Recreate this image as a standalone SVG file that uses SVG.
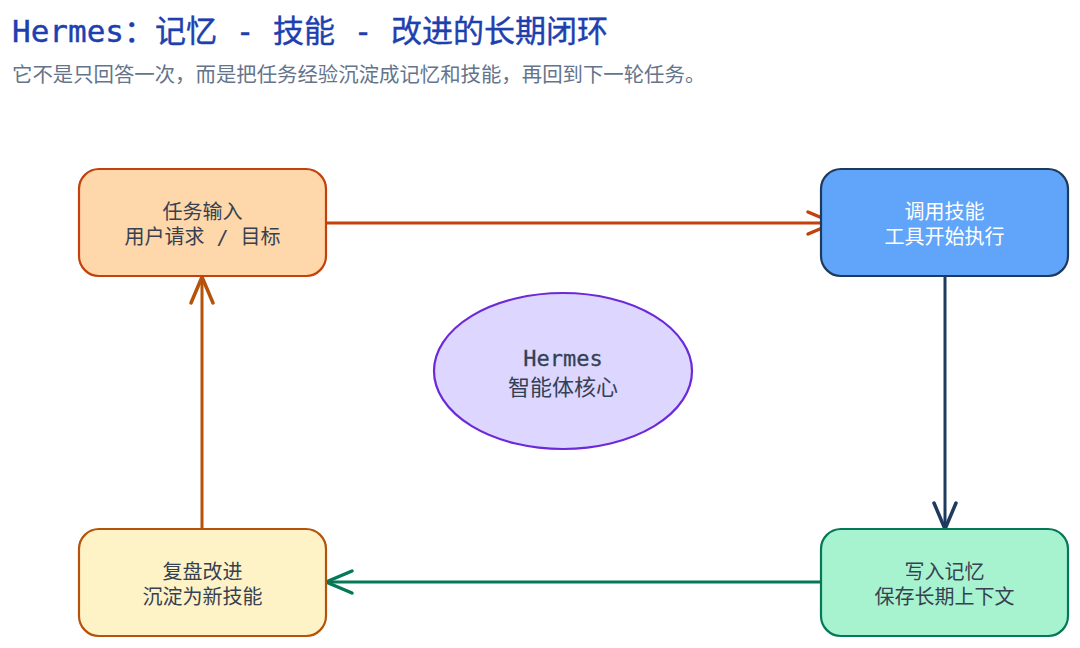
<svg xmlns="http://www.w3.org/2000/svg" width="1080" height="648" viewBox="0 0 1080 648">
<style>
text{font-family:"DejaVu Sans Mono","Noto Sans CJK SC",monospace;}
.title{font-size:31px;fill:#1e40af;stroke:#1e40af;stroke-width:0.4px;}
.cjk{font-family:"Noto Sans CJK SC",sans-serif;}
.sub{font-size:20.4px;fill:#64748b;font-family:"Noto Sans CJK SC",sans-serif;}
.lbl{font-size:20px;fill:#374151;text-anchor:middle;}
.lblw{font-size:20px;fill:#ffffff;text-anchor:middle;}
.core{font-size:22px;fill:#334155;text-anchor:middle;}
.coreb{stroke:#334155;stroke-width:0.3px;}
.node{stroke-width:2.2;}
.edge{fill:none;stroke-width:3;}
</style>
<defs>
<marker id="aOrange" markerUnits="userSpaceOnUse" markerWidth="32" markerHeight="28" refX="28" refY="12" orient="auto" overflow="visible"><path d="M2,1 L28,12 L2,23" fill="none" stroke="#c2410c" stroke-width="3.5" stroke-linecap="round" stroke-linejoin="round"/></marker>
<marker id="aNavy" markerUnits="userSpaceOnUse" markerWidth="32" markerHeight="28" refX="28" refY="12" orient="auto" overflow="visible"><path d="M2,1 L28,12 L2,23" fill="none" stroke="#1e3a5f" stroke-width="3.5" stroke-linecap="round" stroke-linejoin="round"/></marker>
<marker id="aGreen" markerUnits="userSpaceOnUse" markerWidth="32" markerHeight="28" refX="28" refY="12" orient="auto" overflow="visible"><path d="M2,1 L28,12 L2,23" fill="none" stroke="#047857" stroke-width="3.5" stroke-linecap="round" stroke-linejoin="round"/></marker>
<marker id="aAmber" markerUnits="userSpaceOnUse" markerWidth="32" markerHeight="28" refX="28" refY="12" orient="auto" overflow="visible"><path d="M2,1 L28,12 L2,23" fill="none" stroke="#b45309" stroke-width="3.5" stroke-linecap="round" stroke-linejoin="round"/></marker>
</defs>
<rect width="1080" height="648" fill="#ffffff"/>
<g id="header">
<text class="title" x="12" y="42">Hermes<tspan class="cjk">：</tspan>记忆 - 技能 - 改进的长期闭环</text>
<text class="sub" x="12" y="82">它不是只回答一次，而是把任务经验沉淀成记忆和技能，再回到下一轮任务。</text>
</g>
<g id="connectors">
<line class="edge" x1="327" y1="223" x2="834" y2="223" stroke="#c2410c" marker-end="url(#aOrange)"/>
<line class="edge" x1="945" y1="276" x2="945" y2="529" stroke="#1e3a5f" marker-end="url(#aNavy)"/>
<line class="edge" x1="821" y1="582" x2="326" y2="582" stroke="#047857" marker-end="url(#aGreen)"/>
<line class="edge" x1="202" y1="529" x2="202" y2="277" stroke="#b45309" marker-end="url(#aAmber)"/>
</g>
<g id="task-input">
<rect class="node" x="79" y="169" width="247" height="107" rx="20" fill="#fed7aa" stroke="#c2410c"/>
<text class="lbl" x="202.5" y="219">任务输入</text>
<text class="lbl" x="202.5" y="244">用户请求 / 目标</text>
</g>
<g id="invoke-skill">
<rect class="node" x="821" y="169" width="247" height="107" rx="20" fill="#60a5fa" stroke="#1e3a5f"/>
<text class="lblw" x="944.5" y="219">调用技能</text>
<text class="lblw" x="944.5" y="244">工具开始执行</text>
</g>
<g id="write-memory">
<rect class="node" x="821" y="529" width="247" height="107" rx="20" fill="#a7f3d0" stroke="#047857"/>
<text class="lbl" x="944.5" y="579">写入记忆</text>
<text class="lbl" x="944.5" y="604">保存长期上下文</text>
</g>
<g id="review">
<rect class="node" x="79" y="529" width="247" height="107" rx="20" fill="#fef3c7" stroke="#b45309"/>
<text class="lbl" x="202.5" y="579">复盘改进</text>
<text class="lbl" x="202.5" y="604">沉淀为新技能</text>
</g>
<g id="core">
<ellipse cx="563" cy="371" rx="129" ry="78" fill="#ddd6fe" stroke="#6d28d9" stroke-width="2.2"/>
<text class="core coreb" x="563" y="366">Hermes</text>
<text class="core" x="563" y="395">智能体核心</text>
</g>
</svg>
